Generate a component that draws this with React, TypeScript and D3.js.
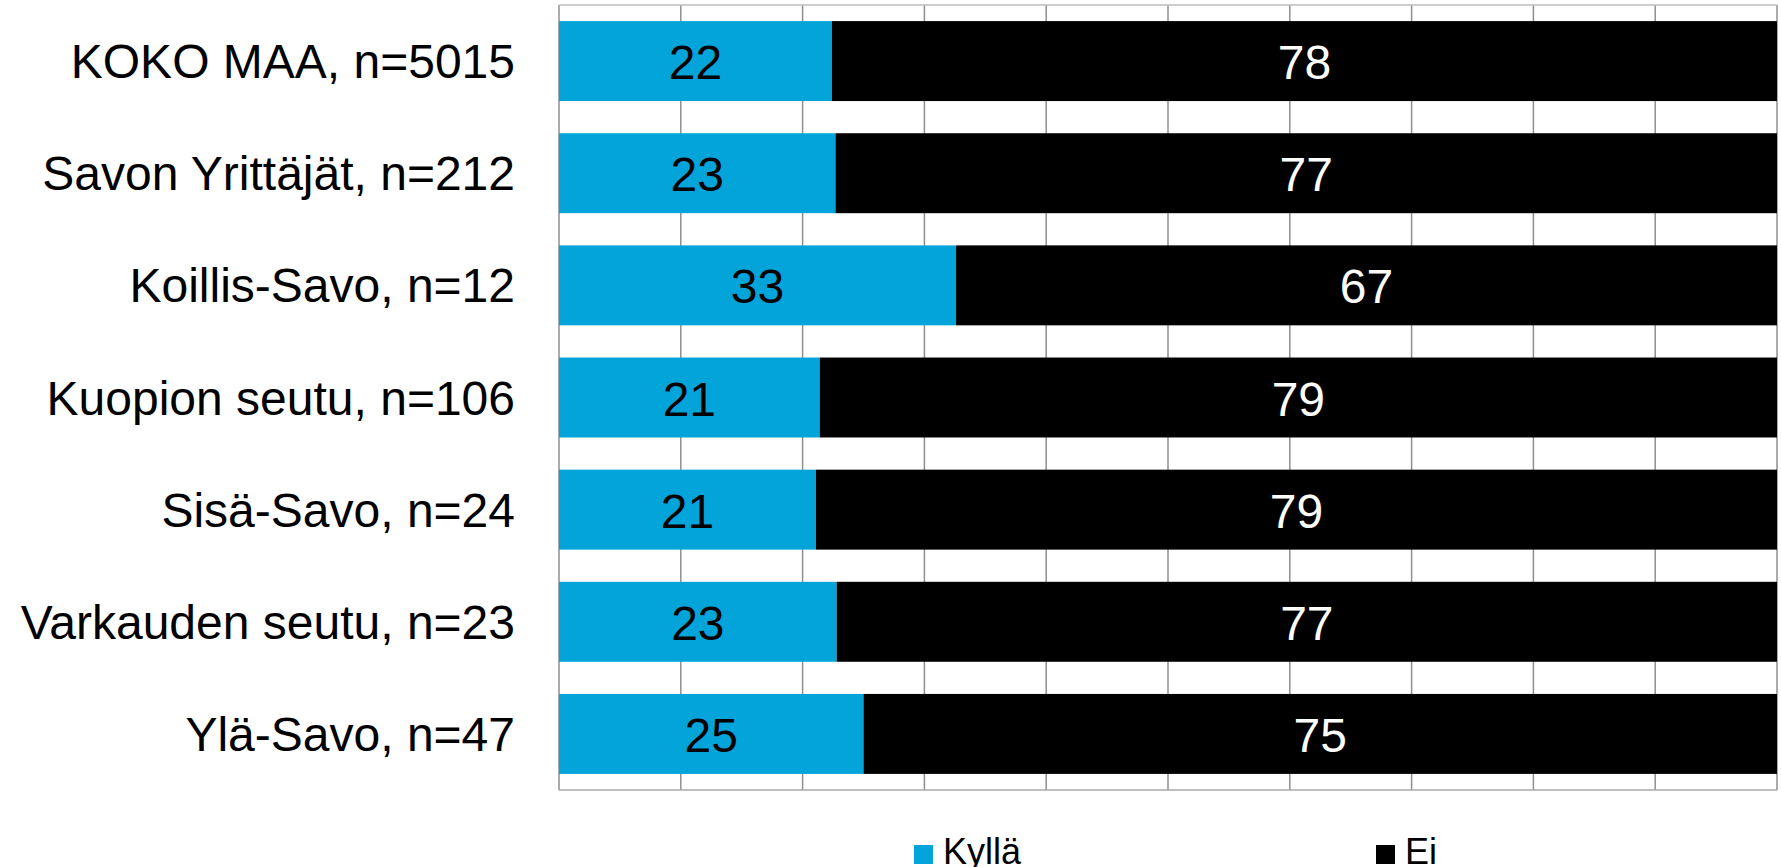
import React from "react";
import * as d3 from "d3";

const categories = [
  "KOKO MAA, n=5015",
  "Savon Yrittäjät, n=212",
  "Koillis-Savo, n=12",
  "Kuopion seutu, n=106",
  "Sisä-Savo, n=24",
  "Varkauden seutu, n=23",
  "Ylä-Savo, n=47",
];
const kylla = [22.4, 22.7, 32.6, 21.4, 21.1, 22.8, 25.0];
const ei = [77.6, 77.3, 67.4, 78.6, 78.9, 77.2, 75.0];
const xTicks = [0, 10, 20, 30, 40, 50, 60, 70, 80, 90, 100];
const seriesNames = ["Kyllä", "Ei"];

const W = 1781;
const H = 867;
const FONT = "'Liberation Sans', Arial, Helvetica, sans-serif";
const BLUE = "#02A4DA";
const BLACK = "#000000";

export default function App() {
  const x = d3.scaleLinear().domain([0, 100]).range([559, 1777]);
  const y = d3
    .scaleBand<string>()
    .domain(categories)
    .range([5, 790])
    .paddingInner(0.287)
    .paddingOuter(0.1435);
  const fmt = d3.format(".0f");
  const bw = y.bandwidth();

  return (
    <svg
      width={W}
      height={H}
      style={{ position: "absolute", left: 0, top: 0, background: "#fff" }}
      fontFamily={FONT}
    >
      <rect x={0} y={0} width={W} height={H} fill="#fff" />
      {xTicks.map((t) => (
        <line
          key={t}
          x1={x(t)}
          x2={x(t)}
          y1={5}
          y2={790}
          stroke="#8f8f8f"
          strokeWidth={1.5}
        />
      ))}
      <line x1={x(0)} x2={x(100)} y1={5} y2={5} stroke="#bdbdbd" strokeWidth={1.5} />
      <line x1={x(0)} x2={x(100)} y1={790} y2={790} stroke="#a8a8a8" strokeWidth={1.5} />

      {categories.map((c, i) => {
        const y0 = y(c)!;
        const cy = y0 + bw / 2;
        const xb0 = x(0);
        const xb1 = x(kylla[i]);
        const xb2 = x(kylla[i] + ei[i]);
        return (
          <g key={c}>
            <rect x={xb0} y={y0} width={xb1 - xb0} height={bw} fill={BLUE} />
            <rect x={xb1} y={y0} width={xb2 - xb1} height={bw} fill={BLACK} />
            <text
              x={(xb0 + xb1) / 2}
              y={cy + 18}
              textAnchor="middle"
              fontSize={48}
              fill="#000"
            >
              {fmt(kylla[i])}
            </text>
            <text
              x={(xb1 + xb2) / 2}
              y={cy + 18}
              textAnchor="middle"
              fontSize={48}
              fill="#fff"
            >
              {fmt(ei[i])}
            </text>
            <text x={515} y={cy + 17} textAnchor="end" fontSize={48} fill="#000">
              {c}
            </text>
          </g>
        );
      })}

      <rect x={914} y={845} width={19} height={19} fill={BLUE} />
      <text x={943} y={864} fontSize={36} fill="#000">
        {seriesNames[0]}
      </text>
      <rect x={1376} y={845} width={19} height={19} fill={BLACK} />
      <text x={1405} y={864} fontSize={36} fill="#000">
        {seriesNames[1]}
      </text>
    </svg>
  );
}
